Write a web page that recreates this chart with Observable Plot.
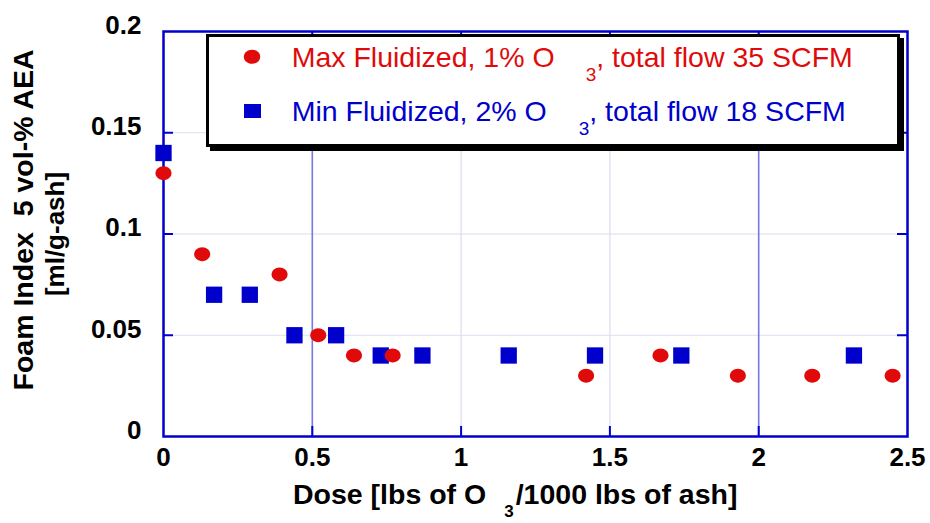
<!DOCTYPE html>
<html>
<head>
<meta charset="utf-8">
<script src="https://cdn.jsdelivr.net/npm/d3@7"></script>
<script src="https://cdn.jsdelivr.net/npm/@observablehq/plot@0.6"></script>
<style>
  html, body { margin: 0; padding: 0; background: white; }
  #chart { width: 930px; height: 523px; }
</style>
</head>
<body>
<div id="chart"></div>
<script>
// ---- data ----
const maxDose = [0, 0.13, 0.39, 0.52, 0.64, 0.77, 1.42, 1.67, 1.93, 2.18, 2.45];
const maxFoam = [0.13, 0.09, 0.08, 0.05, 0.04, 0.04, 0.03, 0.04, 0.03, 0.03, 0.03];
const minDose = [0, 0.17, 0.29, 0.44, 0.58, 0.73, 0.87, 1.16, 1.45, 1.74, 2.32];
const minFoam = [0.14, 0.07, 0.07, 0.05, 0.05, 0.04, 0.04, 0.04, 0.04, 0.04, 0.04];
const xTicks = [0, 0.5, 1, 1.5, 2, 2.5];
const xTickLabels = ["0", "0.5", "1", "1.5", "2", "2.5"];
const yTicks = [0, 0.05, 0.1, 0.15, 0.2];
const yTickLabels = ["0", "0.05", "0.1", "0.15", "0.2"];
const seriesNames = ["Max Fluidized, 1% O", "Min Fluidized, 2% O"];
const seriesSuffix = [", total flow 35 SCFM", ", total flow 18 SCFM"];

// ---- style ----
const FONT = "'Liberation Sans', Arial, Helvetica, sans-serif";
const RED = "#e00a0a";
const BLUE = "#0000cc";
const GRID_LIGHT = "#dcdcf0";
const GRID_MID = "#7878e4";

const maxData = maxDose.map((d, i) => ({dose: d, foam: maxFoam[i]}));
const minData = minDose.map((d, i) => ({dose: d, foam: minFoam[i]}));

const ellipseSymbol = {
  draw(ctx, size) {
    const r = Math.sqrt(size / Math.PI);
    const rx = r * 1.08, ry = r * 0.93, k = 0.5523;
    ctx.moveTo(rx, 0);
    ctx.bezierCurveTo(rx, ry * k, rx * k, ry, 0, ry);
    ctx.bezierCurveTo(-rx * k, ry, -rx, ry * k, -rx, 0);
    ctx.bezierCurveTo(-rx, -ry * k, -rx * k, -ry, 0, -ry);
    ctx.bezierCurveTo(rx * k, -ry, rx, -ry * k, rx, 0);
    ctx.closePath();
  }
};

const W = 930, H = 523, mL = 163, mR = 23, mT = 31, mB = 87;
const frameW = W - mL - mR, frameH = H - mT - mB, tickLen = 10;
const inner = (arr) => arr.slice(1, -1);

const svg = Plot.plot({
  width: W, height: H,
  marginLeft: mL, marginRight: mR, marginTop: mT, marginBottom: mB,
  x: {domain: [0, 2.5]},
  y: {domain: [0, 0.2]},
  style: {fontFamily: FONT, background: "white", color: "black", overflow: "visible"},
  marks: [
    Plot.ruleY(inner(yTicks), {y: d => d, stroke: GRID_LIGHT, strokeWidth: 1.2}),
    Plot.ruleX([1, 1.5], {x: d => d, stroke: GRID_LIGHT, strokeWidth: 1.2}),
    Plot.ruleX([0.5, 2], {x: d => d, stroke: GRID_MID, strokeWidth: 1.6}),
    Plot.ruleY(inner(yTicks), {y: d => d, stroke: BLUE, strokeWidth: 2, insetRight: frameW - tickLen}),
    Plot.ruleY(inner(yTicks), {y: d => d, stroke: BLUE, strokeWidth: 2, insetLeft: frameW - tickLen}),
    Plot.ruleX(inner(xTicks), {x: d => d, stroke: BLUE, strokeWidth: 2, insetTop: frameH - tickLen}),
    Plot.ruleX(inner(xTicks), {x: d => d, stroke: BLUE, strokeWidth: 2, insetBottom: frameH - tickLen}),
    Plot.frame({stroke: BLUE, strokeWidth: 2.5}),
    Plot.axisX({ticks: xTicks, tickFormat: d => xTickLabels[xTicks.indexOf(d)], tickSize: 0, tickPadding: 11,
      fontSize: 26, fontWeight: "bold", fontFamily: FONT, label: null}),
    Plot.axisY({ticks: yTicks, tickFormat: d => yTickLabels[yTicks.indexOf(d)], tickSize: 0, tickPadding: 22, dy: -6,
      fontSize: 26, fontWeight: "bold", fontFamily: FONT, label: null}),
    Plot.dot(minData, {x: "dose", y: "foam", symbol: "square", r: 9.2, fill: BLUE, stroke: null}),
    Plot.dot(maxData, {x: "dose", y: "foam", symbol: ellipseSymbol, r: 7.4, fill: RED, stroke: null})
  ]
});
document.getElementById("chart").appendChild(svg);

const s = d3.select(svg);

// ---- legend ----
const lg = s.append("g").attr("text-anchor", "start");
lg.append("rect").attr("x", 210).attr("y", 38).attr("width", 694).attr("height", 113).attr("fill", "black");
lg.append("rect").attr("x", 207.5).attr("y", 35.5).attr("width", 691).attr("height", 110)
  .attr("fill", "white").attr("stroke", "black").attr("stroke-width", 3);
lg.append("path").attr("transform", "translate(252,56.7)")
  .attr("d", d3.symbol(ellipseSymbol, Math.PI * 7.6 * 7.6)()).attr("fill", RED);
lg.append("rect").attr("x", 244).attr("y", 104).attr("width", 17).attr("height", 14).attr("fill", BLUE);

function legendText(y, color, name, suffix, gap) {
  const t = lg.append("text").attr("x", 291.7).attr("y", y).attr("fill", color).attr("text-anchor", "start")
    .style("font-family", FONT).style("font-size", "28.5px");
  t.append("tspan").text(name);
  t.append("tspan").attr("dx", gap).attr("dy", 14).style("font-size", "19px").text("3");
  t.append("tspan").attr("dy", -14).text(suffix);
}
legendText(66.7, RED, seriesNames[0], seriesSuffix[0], 31);
legendText(120.5, BLUE, seriesNames[1], seriesSuffix[1], 32);

// ---- axis titles ----
const xt = s.append("text").attr("x", 293).attr("y", 504).attr("fill", "black").attr("text-anchor", "start")
  .style("font-family", FONT).style("font-size", "28.5px").style("font-weight", "bold");
xt.append("tspan").text("Dose [lbs of O");
xt.append("tspan").attr("dx", 18).attr("dy", 13).style("font-size", "17px").text("3");
xt.append("tspan").attr("dx", 2).attr("dy", -13).text("/1000 lbs of ash]");

s.append("text").attr("transform", "translate(33,220) rotate(-90)").attr("text-anchor", "middle")
  .attr("fill", "black").style("font-family", FONT).style("font-size", "28.5px").style("font-weight", "bold")
  .text("Foam Index  5 vol-% AEA");
s.append("text").attr("transform", "translate(64,234) rotate(-90)").attr("text-anchor", "middle")
  .attr("fill", "black").style("font-family", FONT).style("font-size", "26px").style("font-weight", "bold")
  .text("[ml/g-ash]");
</script>
</body>
</html>
